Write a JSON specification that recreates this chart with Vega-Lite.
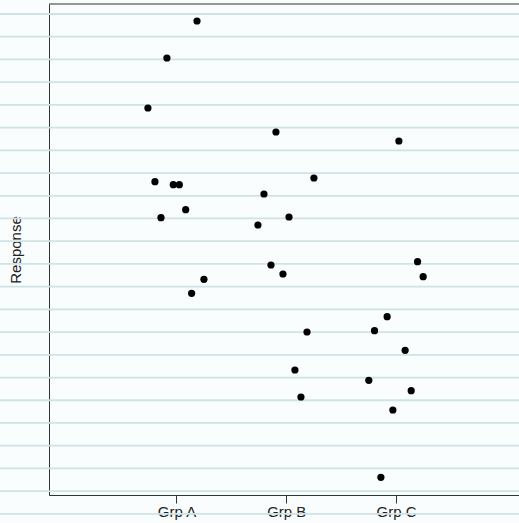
{
  "$schema": "https://vega.github.io/schema/vega-lite/v6.json",
  "width": 470,
  "height": 491,
  "autosize": {"type": "none"},
  "padding": {"left": 49, "top": 4, "right": 0, "bottom": 28},
  "background": "#f9fdfd",
  "config": {
    "view": {"stroke": null},
    "axisX": {
      "title": null, "grid": false,
      "labelExpr": "datum.value == 1 ? 'Grp A' : datum.value == 2 ? 'Grp B' : 'Grp C'",
      "domain": true, "domainColor": "#333333", "domainWidth": 1,
      "ticks": true, "tickColor": "#333333", "tickSize": 8, "tickWidth": 1,
      "labelFont": "Liberation Sans", "labelFontSize": 15, "labelColor": "#222222",
      "labelPadding": 1, "labelFlush": false, "labelOverlap": false, "zindex": 1
    },
    "axisY": {
      "grid": false, "labels": false, "ticks": false,
      "domain": true, "domainColor": "#333333", "domainWidth": 1,
      "titleFont": "Liberation Sans", "titleFontSize": 15, "titleFontWeight": "normal",
      "titleColor": "#222222", "titleX": -34, "titleY": 245.5, "titleAngle": -90,
      "titleAlign": "center", "titleBaseline": "middle", "zindex": 1
    }
  },
  "datasets": {
    "paper": [
      {"line_y": 97.96}, {"line_y": 93.34}, {"line_y": 88.71}, {"line_y": 84.08},
      {"line_y": 79.45}, {"line_y": 74.83}, {"line_y": 70.20}, {"line_y": 65.57},
      {"line_y": 60.94}, {"line_y": 56.32}, {"line_y": 51.69}, {"line_y": 47.06},
      {"line_y": 42.43}, {"line_y": 37.81}, {"line_y": 33.18}, {"line_y": 28.55},
      {"line_y": 23.92}, {"line_y": 19.30}, {"line_y": 14.67}, {"line_y": 10.04},
      {"line_y": 5.41}, {"line_y": 0.79}, {"line_y": -3.84}
    ],
    "obs": [
      {"group": "Grp A", "pos": 1.187, "response": 96.54},
      {"group": "Grp A", "pos": 0.913, "response": 89.00},
      {"group": "Grp A", "pos": 0.740, "response": 78.82},
      {"group": "Grp A", "pos": 0.804, "response": 63.81},
      {"group": "Grp A", "pos": 0.971, "response": 63.20},
      {"group": "Grp A", "pos": 1.026, "response": 63.20},
      {"group": "Grp A", "pos": 0.859, "response": 56.48},
      {"group": "Grp A", "pos": 1.084, "response": 58.11},
      {"group": "Grp A", "pos": 1.250, "response": 43.93},
      {"group": "Grp A", "pos": 1.138, "response": 41.08},
      {"group": "Grp B", "pos": 1.906, "response": 73.93},
      {"group": "Grp B", "pos": 2.252, "response": 64.56},
      {"group": "Grp B", "pos": 1.797, "response": 61.30},
      {"group": "Grp B", "pos": 2.025, "response": 56.62},
      {"group": "Grp B", "pos": 1.742, "response": 54.99},
      {"group": "Grp B", "pos": 1.861, "response": 46.84},
      {"group": "Grp B", "pos": 1.970, "response": 45.01},
      {"group": "Grp B", "pos": 2.189, "response": 33.20},
      {"group": "Grp B", "pos": 2.079, "response": 25.46},
      {"group": "Grp B", "pos": 2.134, "response": 19.96},
      {"group": "Grp C", "pos": 3.026, "response": 72.10},
      {"group": "Grp C", "pos": 3.196, "response": 47.52},
      {"group": "Grp C", "pos": 3.247, "response": 44.46},
      {"group": "Grp C", "pos": 2.919, "response": 36.31},
      {"group": "Grp C", "pos": 2.804, "response": 33.46},
      {"group": "Grp C", "pos": 3.083, "response": 29.47},
      {"group": "Grp C", "pos": 2.752, "response": 23.36},
      {"group": "Grp C", "pos": 3.138, "response": 21.24},
      {"group": "Grp C", "pos": 2.971, "response": 17.31},
      {"group": "Grp C", "pos": 2.862, "response": 3.60}
    ]
  },
  "layer": [
    {
      "data": {"name": "paper"},
      "mark": {"type": "rule", "color": "#cfe2e5", "strokeWidth": 1.8},
      "encoding": {
        "y": {"field": "line_y", "type": "quantitative", "scale": {"domain": [0, 100], "nice": false, "zero": false}, "title": "Response"},
        "x": {"datum": -1, "type": "quantitative", "scale": {"domain": [-0.161, 4.12], "nice": false, "zero": false}, "title": null, "axis": {"values": [1, 2, 3]}},
        "x2": {"datum": 5}
      }
    },
    {
      "data": {"values": [{"top": 100}]},
      "mark": {"type": "rule", "color": "#333333", "strokeWidth": 1},
      "encoding": {
        "y": {"field": "top", "type": "quantitative", "scale": {"domain": [0, 100], "nice": false, "zero": false}, "title": "Response"}
      }
    },
    {
      "data": {"name": "obs"},
      "mark": {"type": "circle", "size": 52, "color": "#000000", "opacity": 1},
      "encoding": {
        "x": {"field": "pos", "type": "quantitative", "scale": {"domain": [-0.161, 4.12], "nice": false, "zero": false}, "title": null, "axis": {"values": [1, 2, 3]}},
        "y": {"field": "response", "type": "quantitative", "scale": {"domain": [0, 100], "nice": false, "zero": false}, "title": "Response"}
      }
    }
  ]
}
